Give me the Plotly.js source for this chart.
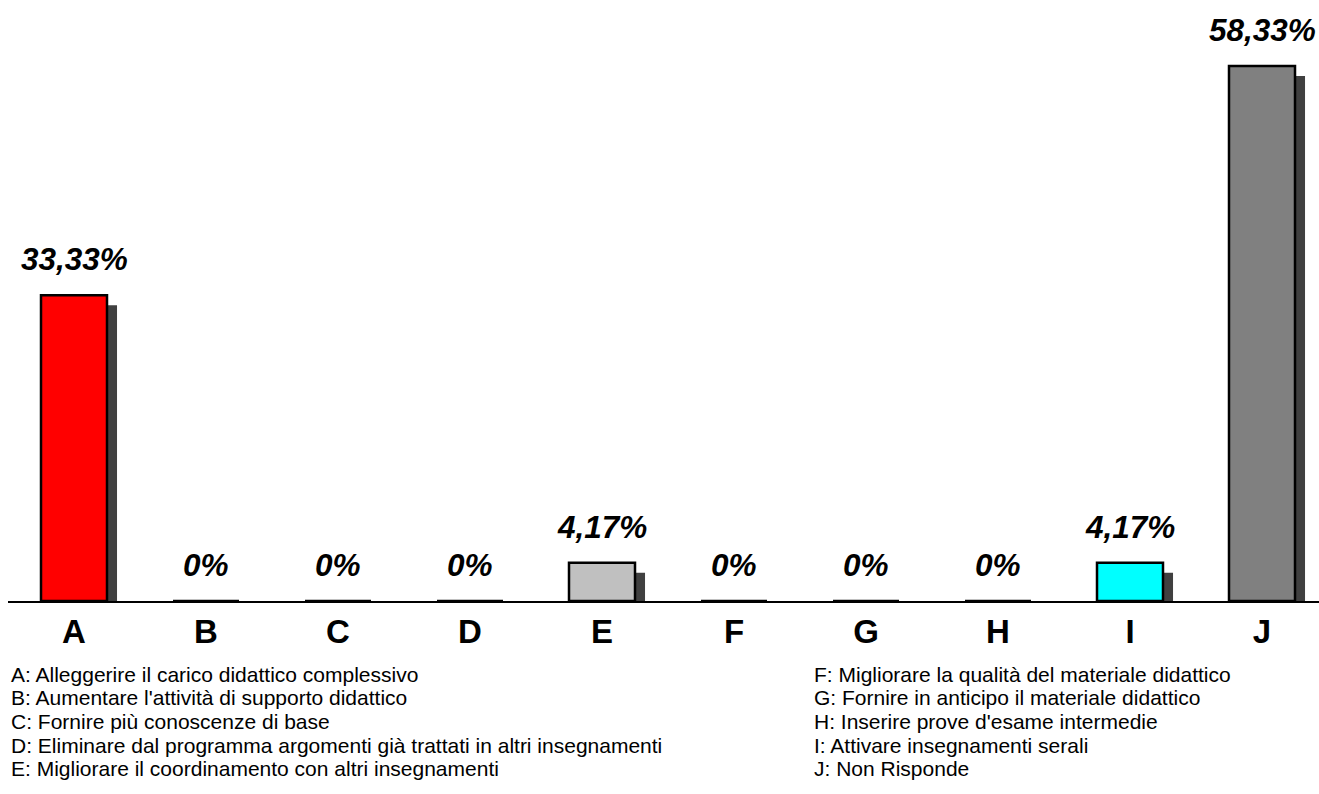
<!DOCTYPE html>
<html>
<head>
<meta charset="utf-8">
<script src="https://cdn.plot.ly/plotly-3.0.1.min.js"></script>
<style>html,body{margin:0;padding:0;background:#fff;}#chart{width:1319px;height:794px;}</style>
</head>
<body>
<div id="chart"></div>
<script>
var categories = ['A','B','C','D','E','F','G','H','I','J'];
var values = [33.33, 0, 0, 0, 4.17, 0, 0, 0, 4.17, 58.33];
var valueLabels = ['33,33%','0%','0%','0%','4,17%','0%','0%','0%','4,17%','58,33%'];
var barColors = ['#ff0000','#ffffff','#ffffff','#ffffff','#c0c0c0','#ffffff','#ffffff','#ffffff','#00ffff','#808080'];
var legendLeft = [
  "A: Alleggerire il carico didattico complessivo",
  "B: Aumentare l'attività di supporto didattico",
  "C: Fornire più conoscenze di base",
  "D: Eliminare dal programma argomenti già trattati in altri insegnamenti",
  "E: Migliorare il coordinamento con altri insegnamenti"
];
var legendRight = [
  "F: Migliorare la qualità del materiale didattico",
  "G: Fornire in anticipo il materiale didattico",
  "H: Inserire prove d'esame intermedie",
  "I: Attivare insegnamenti serali",
  "J: Non Risponde"
];

var FONT = 'Liberation Sans, Arial, sans-serif';
var shadowDy = 1.09;   // shadow vertical drop (in axis units)
var barW = 0.5;
var shadowDx = 0.076;

var xIdx = categories.map(function(c,i){return i;});

var shadow = {
  type: 'bar', x: xIdx,
  y: values.map(function(v){return Math.max(v - shadowDy, 0);}),
  width: barW, offset: -barW/2 + shadowDx,
  marker: {color: '#404040', line: {width: 0}},
  hoverinfo: 'skip', showlegend: false
};
var bars = {
  type: 'bar', x: xIdx, y: values,
  width: barW, offset: -barW/2,
  marker: {color: barColors, line: {color: '#000000', width: 2.5}},
  showlegend: false
};

var annotations = [];
values.forEach(function(v,i){
  annotations.push({
    x: i, y: v, xref: 'x', yref: 'y', text: valueLabels[i],
    showarrow: false, yanchor: 'middle', yshift: 36,
    font: {family: FONT, size: 31.5, color: '#000', weight: 'bold', style: 'italic'}
  });
});
var lineStep = 23.7;
function legendNote(t, i, dx) {
  return {
    x: 0, y: 0, xref: 'paper', yref: 'paper', xanchor: 'left', yanchor: 'middle',
    xshift: dx, yshift: -73 - i*lineStep, text: t, showarrow: false,
    borderpad: 0,
    font: {family: FONT, size: 21, color: '#000'}
  };
}
legendLeft.forEach(function(t,i){ annotations.push(legendNote(t, i, 2)); });
legendRight.forEach(function(t,i){ annotations.push(legendNote(t, i, 805)); });

var layout = {
  width: 1319, height: 794,
  margin: {l: 8, r: 0, t: 0, b: 193},
  paper_bgcolor: '#ffffff', plot_bgcolor: '#ffffff',
  barmode: 'overlay',
  xaxis: {
    range: [-0.5, -0.5 + 1311/132],
    tickvals: xIdx, ticktext: categories,
    showgrid: false, zeroline: false,
    showline: true, linecolor: '#000', linewidth: 2,
    ticks: '', ticklabelstandoff: 0,
    tickfont: {family: FONT, size: 33, color: '#000', weight: 'bold'},
    fixedrange: true
  },
  yaxis: {
    range: [0, 65.54], visible: false, showgrid: false, zeroline: false, fixedrange: true
  },
  annotations: annotations,
  showlegend: false
};

Plotly.newPlot('chart', [shadow, bars], layout, {displayModeBar: false, staticPlot: true});
</script>
</body>
</html>
